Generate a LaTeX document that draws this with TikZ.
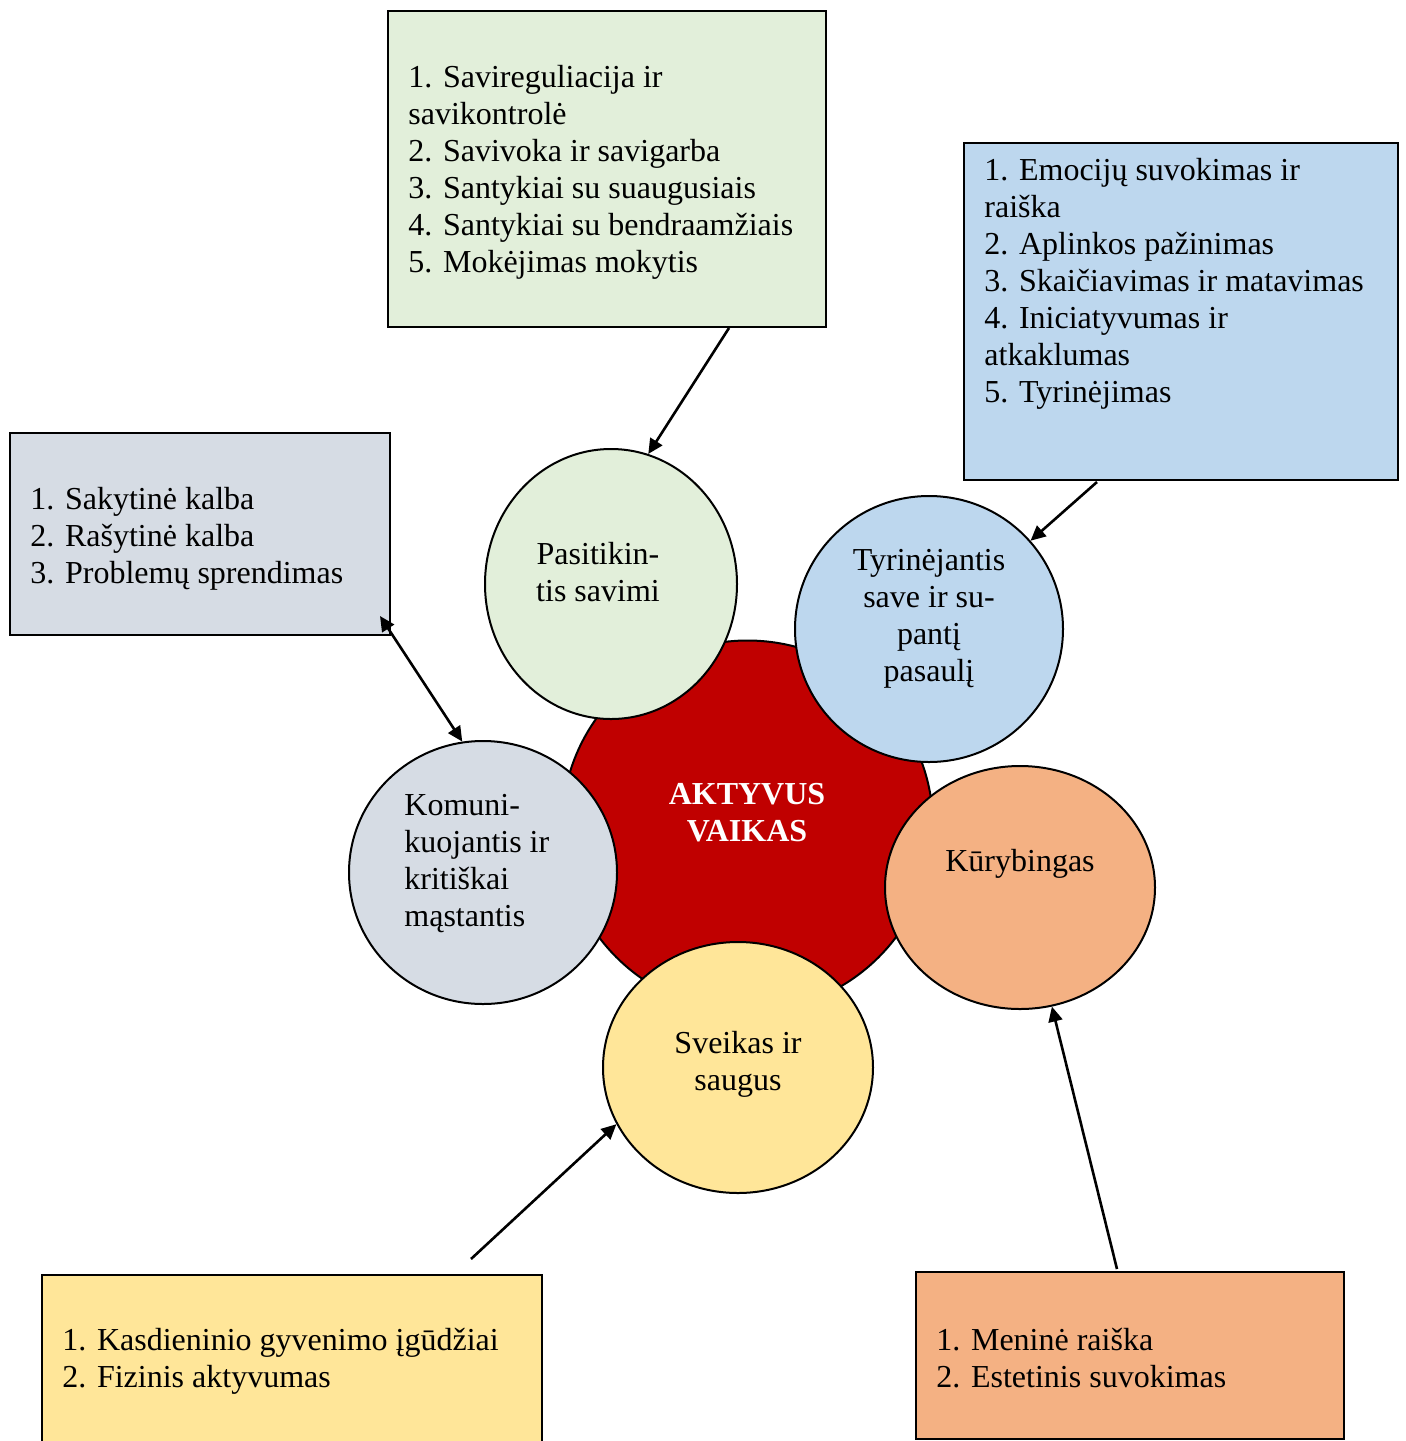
\documentclass[tikz,border=0pt]{standalone}
\usepackage{fontspec}
\setmainfont{Liberation Serif}
\usetikzlibrary{arrows.meta,shapes.geometric}
\definecolor{cgreen}{HTML}{E2EFDA}
\definecolor{cblue}{HTML}{BDD7EE}
\definecolor{cgray}{HTML}{D6DCE4}
\definecolor{corange}{HTML}{F4B183}
\definecolor{cyellow}{HTML}{FFE699}
\definecolor{cred}{HTML}{C00000}
\tikzset{
  bubble/.style={ellipse,draw=black,line width=1pt,inner sep=0pt},
  infobox/.style={rectangle,draw=black,line width=1pt,inner sep=0pt,anchor=north west},
  txt/.style={font=\fontsize{16pt}{18.5pt}\selectfont,inner sep=0pt},
  conn/.style={line width=1.3pt,-{Triangle[length=7.5pt,width=7pt]}},
  dconn/.style={line width=1.3pt,{Triangle[length=7.5pt,width=7pt]}-{Triangle[length=7.5pt,width=7pt]}}
}
\begin{document}
\begin{tikzpicture}[x=0.5pt,y=-0.5pt]
\useasboundingbox (0,0) rectangle (1405,1441);
% boxes
\node[infobox,fill=cgreen,minimum width=219pt,minimum height=158pt] (gbox) at (387,10) {};
\node[infobox,fill=cblue,minimum width=217pt,minimum height=168.5pt] (bbox) at (963,142) {};
\node[infobox,fill=cgray,minimum width=190pt,minimum height=101pt] (rbox) at (9,432) {};
\node[infobox,fill=cyellow,minimum width=250pt,minimum height=90pt] (ybox) at (41,1274) {};
\node[infobox,fill=corange,minimum width=214pt,minimum height=83.5pt] (obox) at (915,1271) {};
% box texts
\node[txt,align=left,anchor=west] (gtxt) at (408,172) {1. Savireguliacija ir\\savikontrolė\\2. Savivoka ir savigarba\\3. Santykiai su suaugusiais\\4. Santykiai su bendraamžiais\\5. Mokėjimas mokytis};
\node[txt,align=left,anchor=west] (btxt) at (984,284) {1. Emocijų suvokimas ir\\raiška\\2. Aplinkos pažinimas\\3. Skaičiavimas ir matavimas\\4. Iniciatyvumas ir\\atkaklumas\\5. Tyrinėjimas};
\node[txt,align=left,anchor=west] (rtxt) at (30,539) {1. Sakytinė kalba\\2. Rašytinė kalba\\3. Problemų sprendimas};
\node[txt,align=left,anchor=west] (ytxt) at (62,1361) {1. Kasdieninio gyvenimo įgūdžiai\\2. Fizinis aktyvumas};
\node[txt,align=left,anchor=west] (otxt) at (936,1358) {1. Meninė raiška\\2. Estetinis suvokimas};
% circles
\node[bubble,fill=cred,minimum width=185.5pt,minimum height=185.5pt] (core) at (747.5,826) {};
\node[txt,align=center,text=white,font=\fontsize{16pt}{18.5pt}\selectfont\bfseries] (coretxt) at (747,813) {AKTYVUS\\VAIKAS};
\node[bubble,fill=cgreen,minimum width=126pt,minimum height=135pt] (pas) at (611,584) {};
\node[txt,align=center] (pastxt) at (598,572) {Pasitikin-\\tis savimi};
\node[bubble,fill=cblue,minimum width=134pt,minimum height=133pt] (tyr) at (929,629) {};
\node[txt,align=center] (tyrtxt) at (929,619) {Tyrinėjantis\\save ir su-\\pantį\\pasaulį};
\node[bubble,fill=cgray,minimum width=134pt,minimum height=131.5pt] (kom) at (483,872.5) {};
\node[txt,align=left,anchor=west] (komtxt) at (404,864) {Komuni-\\kuojantis ir\\kritiškai\\mąstantis};
\node[bubble,fill=corange,minimum width=135pt,minimum height=121.5pt] (kur) at (1020,887.5) {};
\node[txt] (kurtxt) at (1020,864) {Kūrybingas};
\node[bubble,fill=cyellow,minimum width=135pt,minimum height=125.5pt] (sve) at (738,1067.5) {};
\node[txt,align=center] (svetxt) at (738,1064) {Sveikas ir\\saugus};
% connector free ends
\coordinate (g1) at (729,328);
\coordinate (b1) at (1097,482);
\coordinate (r1) at (380,616);
\coordinate (y1) at (471,1259);
\coordinate (o1) at (1117,1269);
% connectors
\draw[conn] (g1) -- (pas.74);
\draw[conn] (b1) -- (tyr.41);
\draw[dconn] (r1) -- (kom.99);
\draw[conn] (y1) -- (sve.205);
\draw[conn] (o1) -- (kur.285);
\end{tikzpicture}
\end{document}
